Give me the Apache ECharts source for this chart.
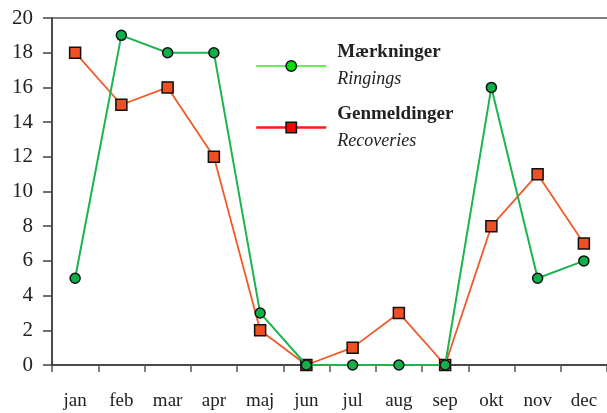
<!DOCTYPE html>
<html>
<head>
<meta charset="utf-8">
<script src="https://cdn.jsdelivr.net/npm/echarts@6/dist/echarts.min.js"></script>
<style>
  html, body { margin: 0; padding: 0; background: #fff; }
  #chart { width: 607px; height: 413px; }
</style>
</head>
<body>
<div id="chart"></div>
<script>
// months on the x axis
const months = ["jan", "feb", "mar", "apr", "maj", "jun", "jul", "aug", "sep", "okt", "nov", "dec"];
// Mærkninger (ringings)
const ringings = [5, 19, 18, 18, 3, 0, 0, 0, 0, 16, 5, 6];
// Genmeldinger (recoveries)
const recoveries = [18, 15, 16, 12, 2, 0, 1, 3, 0, 8, 11, 7];

const serif = "'Liberation Serif', 'DejaVu Serif', serif";
const chart = echarts.init(document.getElementById("chart"));

chart.setOption({
  animation: false,
  grid: { left: 52, right: -1, top: 18, bottom: 48 },
  legend: {
    orient: "vertical",
    left: 255,
    top: 43,
    padding: 0,
    itemWidth: 70,
    itemHeight: 13,
    itemGap: 16,
    selectedMode: false,
    formatter: function (name) {
      if (name === "Mærkninger") return "{a|Mærkninger}\n{b|Ringings}";
      return "{a|Genmeldinger}\n{b|Recoveries}";
    },
    textStyle: {
      rich: {
        a: { fontFamily: serif, fontWeight: "bold", fontSize: 19, lineHeight: 27, color: "#222", padding: [0, 0, 0, 6] },
        b: { fontFamily: serif, fontStyle: "italic", fontSize: 18, lineHeight: 27, color: "#222", padding: [0, 0, 0, 6] }
      }
    },
    data: [
      {
        name: "Mærkninger",
        itemStyle: { color: "#00e000", borderColor: "#111", borderWidth: 1.5 },
        lineStyle: { color: "#66ee55", width: 2 }
      },
      {
        name: "Genmeldinger",
        itemStyle: { color: "#ff0000", borderColor: "#111", borderWidth: 1.5 },
        lineStyle: { color: "#ff1a1a", width: 2.5 }
      }
    ]
  },
  xAxis: [
    {
      type: "category",
      data: months,
      boundaryGap: true,
      axisLine: { lineStyle: { color: "#111", width: 1.5 } },
      axisTick: { show: true, alignWithLabel: false, length: 7, lineStyle: { color: "#555", width: 1.5 } },
      axisLabel: { margin: 27, fontFamily: serif, fontSize: 19, color: "#222" },
      splitLine: { show: false }
    },
    {
      type: "category",
      data: months,
      position: "top",
      axisLine: { show: true, lineStyle: { color: "#555", width: 1.5 } },
      axisTick: { show: false },
      axisLabel: { show: false },
      splitLine: { show: false }
    }
  ],
  yAxis: {
    type: "value",
    min: 0,
    max: 20,
    interval: 2,
    axisLine: { show: true, lineStyle: { color: "#111", width: 1.5 } },
    axisTick: { show: true, length: 9, lineStyle: { color: "#444", width: 1.5 } },
    axisLabel: { margin: 19, fontFamily: serif, fontSize: 21, color: "#222" },
    splitLine: { show: false }
  },
  series: [
    {
      name: "Genmeldinger",
      type: "line",
      data: recoveries,
      symbol: "rect",
      symbolSize: 11,
      lineStyle: { color: "#f05a2a", width: 1.8 },
      itemStyle: { color: "#f04e23", borderColor: "#111", borderWidth: 1.5 },
      z: 3
    },
    {
      name: "Mærkninger",
      type: "line",
      data: ringings,
      symbol: "circle",
      symbolSize: 10,
      lineStyle: { color: "#1db34f", width: 2 },
      itemStyle: { color: "#0fb04a", borderColor: "#111", borderWidth: 1.5 },
      z: 4
    }
  ]
});
</script>
</body>
</html>
